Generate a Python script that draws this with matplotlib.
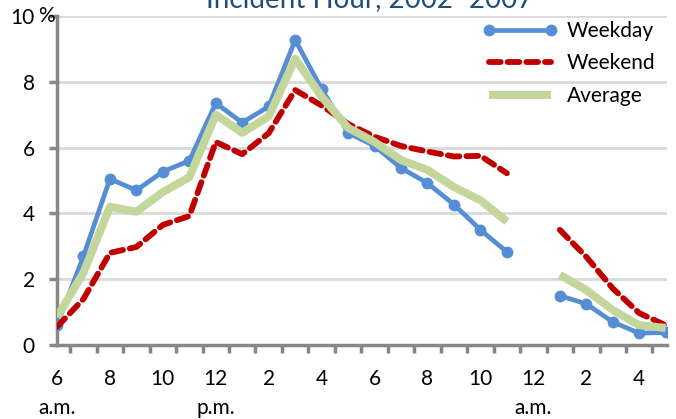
import numpy as np
import matplotlib
matplotlib.use("Agg")
import matplotlib.pyplot as plt

hours = list(range(24))
tick_labels = ["6", "8", "10", "12", "2", "4", "6", "8", "10", "12", "2", "4"]
nan = np.nan
weekday = [0.6, 2.7, 5.05, 4.7, 5.27, 5.6, 7.35, 6.76, 7.25, 9.27, 7.78, 6.45,
           6.05, 5.38, 4.92, 4.27, 3.5, 2.83, nan, 1.5, 1.25, 0.7, 0.36, 0.38]
weekend = [0.55, 1.4, 2.8, 2.98, 3.65, 3.92, 6.17, 5.8, 6.44, 7.75, 7.28, 6.72,
           6.33, 6.05, 5.88, 5.73, 5.75, 5.22, nan, 3.5, 2.68, 1.72, 0.97, 0.6]
average = [0.85, 2.2, 4.2, 4.05, 4.65, 5.1, 7.0, 6.45, 6.95, 8.7, 7.55, 6.6,
           6.17, 5.62, 5.32, 4.8, 4.4, 3.75, nan, 2.13, 1.67, 1.06, 0.6, 0.52]

plt.rcParams['font.family'] = ['Lato', 'DejaVu Sans']
FS = 15
fig = plt.figure(figsize=(6.76, 4.19), dpi=100)
ax = fig.add_axes([57/676, 1-345/419, (667-57)/676, (345-16)/419])

x = np.array(hours)
ax.plot(x, weekday, color='#558ED5', lw=3.4, marker='o', ms=7.5, zorder=3, label='Weekday')
ax.plot(x, weekend, color='#C00000', lw=4.2, ls=(0, (2.0, 1.2)), zorder=4, label='Weekend',
        dash_capstyle='round')
ax.plot(x, average, color='#C3D69B', lw=5.8, zorder=5, label='Average', solid_capstyle='butt')

ax.set_xlim(0, 23.05)
ax.set_ylim(0, 10)
ax.set_yticks([0, 2, 4, 6, 8, 10])
ax.set_yticklabels(['0', '2', '4', '6', '8', '10'])
ax.yaxis.grid(True, color='#D9D9D9', lw=2)
ax.set_axisbelow(True)

ax.set_xticks(np.arange(0.5, 23, 1))
ax.set_xticklabels([])
ax.set_xticks(np.arange(0, 24, 2), minor=True)
ax.set_xticklabels(tick_labels, minor=True)
ax.tick_params(axis='x', which='major', length=6, width=2.5, color='#878787', direction='out')
ax.tick_params(axis='x', which='minor', length=0, pad=17, labelsize=FS)
ax.tick_params(axis='y', length=6, width=2.5, color='#878787', labelsize=FS, pad=10)

for s in ['top', 'right']:
    ax.spines[s].set_visible(False)
for s in ['left', 'bottom']:
    ax.spines[s].set_color('#878787')
    ax.spines[s].set_linewidth(2.5)

# percent sign next to the top tick label
fig.text(38/676, 1-16/419, '%', ha='left', va='center', fontsize=FS)

trans = ax.get_xaxis_transform()
for xp, txt in [(0, 'a.m.'), (6, 'p.m.'), (18, 'a.m.')]:
    ax.text(xp, -0.191, txt, transform=trans, ha='center', va='center', fontsize=FS)

fig.text(0.547, 1-7.5/419, 'Incident Hour, 2002–2007', ha='center', va='baseline',
         fontsize=20, color='#1F4E79')

leg = ax.legend(loc='upper right', bbox_to_anchor=(1.0, 1.02), frameon=False, fontsize=FS,
                handlelength=3.6, labelspacing=0.6, handletextpad=0.45, borderaxespad=0.15,
                numpoints=2)

fig.savefig('out.png', dpi=100)
